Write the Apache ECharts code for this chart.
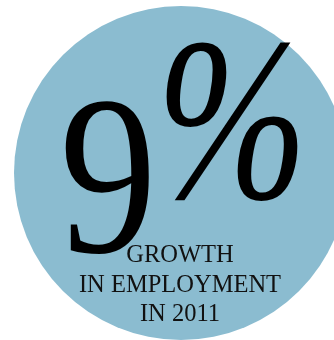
<!DOCTYPE html>
<html>
<head>
<meta charset="utf-8">
<script src="https://cdn.jsdelivr.net/npm/echarts@6/dist/echarts.min.js"></script>
<style>html,body{margin:0;padding:0;background:#fff}#c{width:334px;height:340px}</style>
</head>
<body>
<div id="c"></div>
<script>
const bigValue = ['9'];
const unitSymbol = ['%'];
const captionLines = ['GROWTH', 'IN EMPLOYMENT', 'IN 2011'];
const circleColor = '#8BBCD0';

const chart = echarts.init(document.getElementById('c'), null, {renderer: 'canvas'});
const font = '"Liberation Serif", "DejaVu Serif", serif';
const elements = [
  {type: 'circle', shape: {cx: 181, cy: 173, r: 167}, style: {fill: circleColor}, z: 1},
  {type: 'text', x: 108, y: 193, scaleX: 0.86, z: 5,
   style: {text: bigValue[0], font: '226px ' + font, fill: '#000', align: 'center', verticalAlign: 'middle'}},
  {type: 'text', x: 232, y: 137, scaleX: 0.78, z: 5,
   style: {text: unitSymbol[0], font: 'italic 233px ' + font, fill: '#000', align: 'center', verticalAlign: 'middle'}}
];
const lineY = [256, 285.5, 315];
captionLines.forEach((t, i) => {
  elements.push({type: 'text', x: 180, y: lineY[i], z: 6,
    style: {text: t, font: '24.5px ' + font, fill: '#111', align: 'center', verticalAlign: 'middle'}});
});
chart.setOption({animation: false, graphic: {elements}});
</script>
</body>
</html>
